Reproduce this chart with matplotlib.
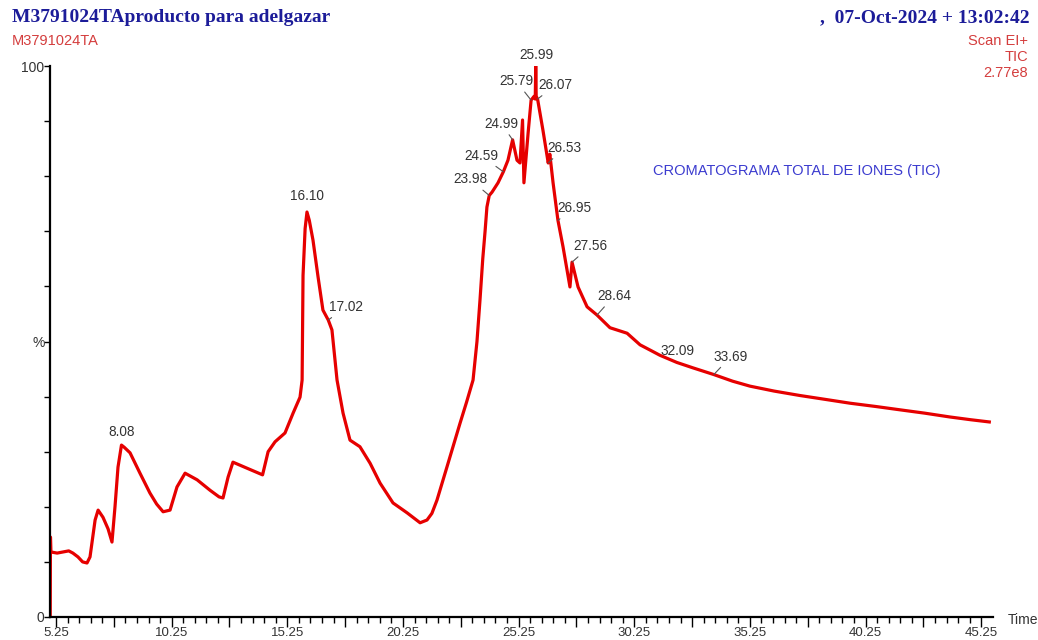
import numpy as np
import matplotlib
matplotlib.use("Agg")
import matplotlib.pyplot as plt
from matplotlib.ticker import FixedLocator, FuncFormatter

# TIC trace, retention time (min) vs relative intensity (%)
time = [5.00, 5.01, 5.03, 5.30, 5.55, 5.80, 5.98, 6.20, 6.40, 6.59, 6.72, 6.94,
        7.07, 7.28, 7.50, 7.67, 7.80, 7.93, 8.08, 8.20, 8.45, 8.88, 9.31, 9.60,
        9.88, 10.18, 10.48, 10.83, 11.35, 11.91, 12.30, 12.47, 12.69, 12.90,
        13.51, 14.18, 14.42, 14.72, 15.15, 15.50, 15.80, 15.89, 15.93, 16.02,
        16.10, 16.20, 16.36, 16.58, 16.79, 17.02, 17.18, 17.40, 17.66, 17.96,
        18.39, 18.83, 19.26, 19.82, 20.43, 20.99, 21.29, 21.50, 21.72, 22.15,
        22.72, 23.00, 23.28, 23.45, 23.58, 23.70, 23.80, 23.88, 23.98, 24.10,
        24.36, 24.59, 24.79, 24.99, 25.18, 25.31, 25.42, 25.48, 25.66, 25.79,
        25.92, 25.97, 25.99, 26.01, 26.07, 26.30, 26.53, 26.60, 26.74, 26.95,
        27.17, 27.47, 27.56, 27.82, 28.21, 28.64, 29.20, 29.94, 30.50, 31.00,
        31.36, 32.09, 32.80, 33.69, 34.50, 35.25, 36.30, 37.41, 38.50, 39.58,
        40.70, 41.74, 42.80, 43.90, 44.80, 45.60]
intensity = [0.0, 14.5, 11.8, 11.6, 11.8, 12.0, 11.6, 10.9, 10.0, 9.8, 10.9, 17.6,
             19.4, 18.1, 16.0, 13.6, 20.0, 27.2, 31.2, 30.8, 29.8, 26.1, 22.5, 20.5,
             19.1, 19.4, 23.6, 26.1, 24.9, 23.0, 21.8, 21.6, 25.4, 28.1,
             27.0, 25.8, 30.0, 31.8, 33.4, 37.0, 39.9, 43.0, 62.0, 70.5,
             73.5, 72.0, 68.4, 61.7, 55.7, 53.9, 52.1, 43.0, 37.0, 32.1,
             30.9, 27.9, 24.3, 20.7, 18.9, 17.1, 17.6, 18.8, 21.2, 27.2,
             35.2, 39.0, 43.0, 50.0, 57.5, 65.0, 70.0, 74.4, 76.5, 77.1,
             78.8, 80.8, 82.9, 86.6, 82.9, 82.4, 90.2, 78.8, 87.8, 93.8,
             94.5, 94.0, 100.0, 94.5, 94.0, 88.4, 82.4, 84.0, 78.8, 72.0,
             67.2, 59.9, 64.4, 59.9, 56.3, 54.8, 52.5, 51.5, 49.4, 48.3,
             47.5, 46.2, 45.2, 44.0, 42.8, 41.9, 41.0, 40.2, 39.5, 38.8,
             38.2, 37.6, 37.0, 36.3, 35.8, 35.4]

peak_times = [8.08, 16.10, 17.02, 23.98, 24.59, 24.99, 25.79, 25.99, 26.07,
              26.53, 26.95, 27.56, 28.64, 32.09, 33.69]
# label offsets in pixels (dx, dy) from the peak
label_offsets = [(0, 13), (0, 16), (18, 13), (-19, 16), (-22, 16), (-11, 16),
                 (-15, 19), (1, 11), (18, 14), (16, 15), (17, 12), (18, 16),
                 (17, 19), (1, 11), (17, 18)]

sans = ["Liberation Sans", "DejaVu Sans"]
serif = ["Liberation Serif", "DejaVu Serif"]
plt.rcParams["font.family"] = sans

W, H = 1038, 640
fig = plt.figure(figsize=(W / 100, H / 100), dpi=100)
ax = fig.add_axes([50 / W, (H - 617) / H, (993 - 50) / W, (617 - 66) / H])

ax.plot(time, intensity, color="#e60000", lw=2.3, solid_joinstyle="round")

ax.set_xlim(4.99, 45.76)
ax.set_ylim(0, 100)

for s in ["top", "right"]:
    ax.spines[s].set_visible(False)
for s in ["left", "bottom"]:
    ax.spines[s].set_linewidth(1.6)
    ax.spines[s].set_color("black")

major = np.arange(5.25, 45.3, 2.5)
ax.xaxis.set_major_locator(FixedLocator(major))
ax.xaxis.set_major_formatter(FuncFormatter(
    lambda v, p: f"{v:.2f}" if abs(((v - 5.25) / 5) - round((v - 5.25) / 5)) < 1e-6 else ""))
ax.xaxis.set_minor_locator(FixedLocator(np.arange(5.25, 45.3, 0.5)))
ax.tick_params(axis="x", which="major", length=7, width=1.0, direction="out",
               labelsize=9.5, labelcolor="#333333", pad=0)
ax.tick_params(axis="x", which="minor", length=4, width=1.0, direction="out")

ax.yaxis.set_major_locator(FixedLocator([0, 50, 100]))
ax.yaxis.set_major_formatter(FuncFormatter(
    lambda v, p: {0: "0", 50: "%", 100: "100"}.get(int(round(v)), "")))
ax.yaxis.set_minor_locator(FixedLocator(np.arange(10, 100, 10)))
ax.tick_params(axis="y", which="major", length=4, width=1.0, direction="out",
               labelsize=10, labelcolor="#333333", pad=0)
ax.tick_params(axis="y", which="minor", length=4, width=1.0, direction="out")

ax.text(1.016, -0.006, "Time", transform=ax.transAxes, fontsize=10,
        color="#333333", ha="left", va="center")

# peak labels
for t, (dx, dy) in zip(peak_times, label_offsets):
    y = np.interp(t, time, intensity)
    arrow = None
    if abs(dx) > 5:
        arrow = dict(arrowstyle="-", color="#555555", lw=0.8,
                     shrinkA=1, shrinkB=0)
    ax.annotate(f"{t:.2f}", xy=(t, y), xytext=(dx * 0.72, dy * 0.72),
                textcoords="offset points", ha="center", va="center",
                fontsize=9.8, color="#333333", arrowprops=arrow)

ax.text(0.639, 0.81, "CROMATOGRAMA TOTAL DE IONES (TIC)", transform=ax.transAxes,
        fontsize=10.5, color="#3b3bcf", ha="left", va="center")

# header
fig.text(12 / W, 1 - 18 / H, "M3791024TAproducto para adelgazar", family=serif,
         fontsize=14, fontweight="bold", color="#1c1c99", ha="left", va="center")
fig.text(1030 / W, 1 - 18 / H, ",  07-Oct-2024 + 13:02:42", family=serif,
         fontsize=14, fontweight="bold", color="#1c1c99", ha="right", va="center")
fig.text(12 / W, 1 - 41 / H, "M3791024TA", fontsize=10.5, color="#d43d3d",
         ha="left", va="center")
fig.text(1028 / W, 1 - 41 / H, "Scan EI+", fontsize=10.5, color="#d43d3d",
         ha="right", va="center")
fig.text(1028 / W, 1 - 57 / H, "TIC", fontsize=10.5, color="#d43d3d",
         ha="right", va="center")
fig.text(1028 / W, 1 - 73 / H, "2.77e8", fontsize=10.5, color="#d43d3d",
         ha="right", va="center")

fig.savefig("out.png", dpi=100)
